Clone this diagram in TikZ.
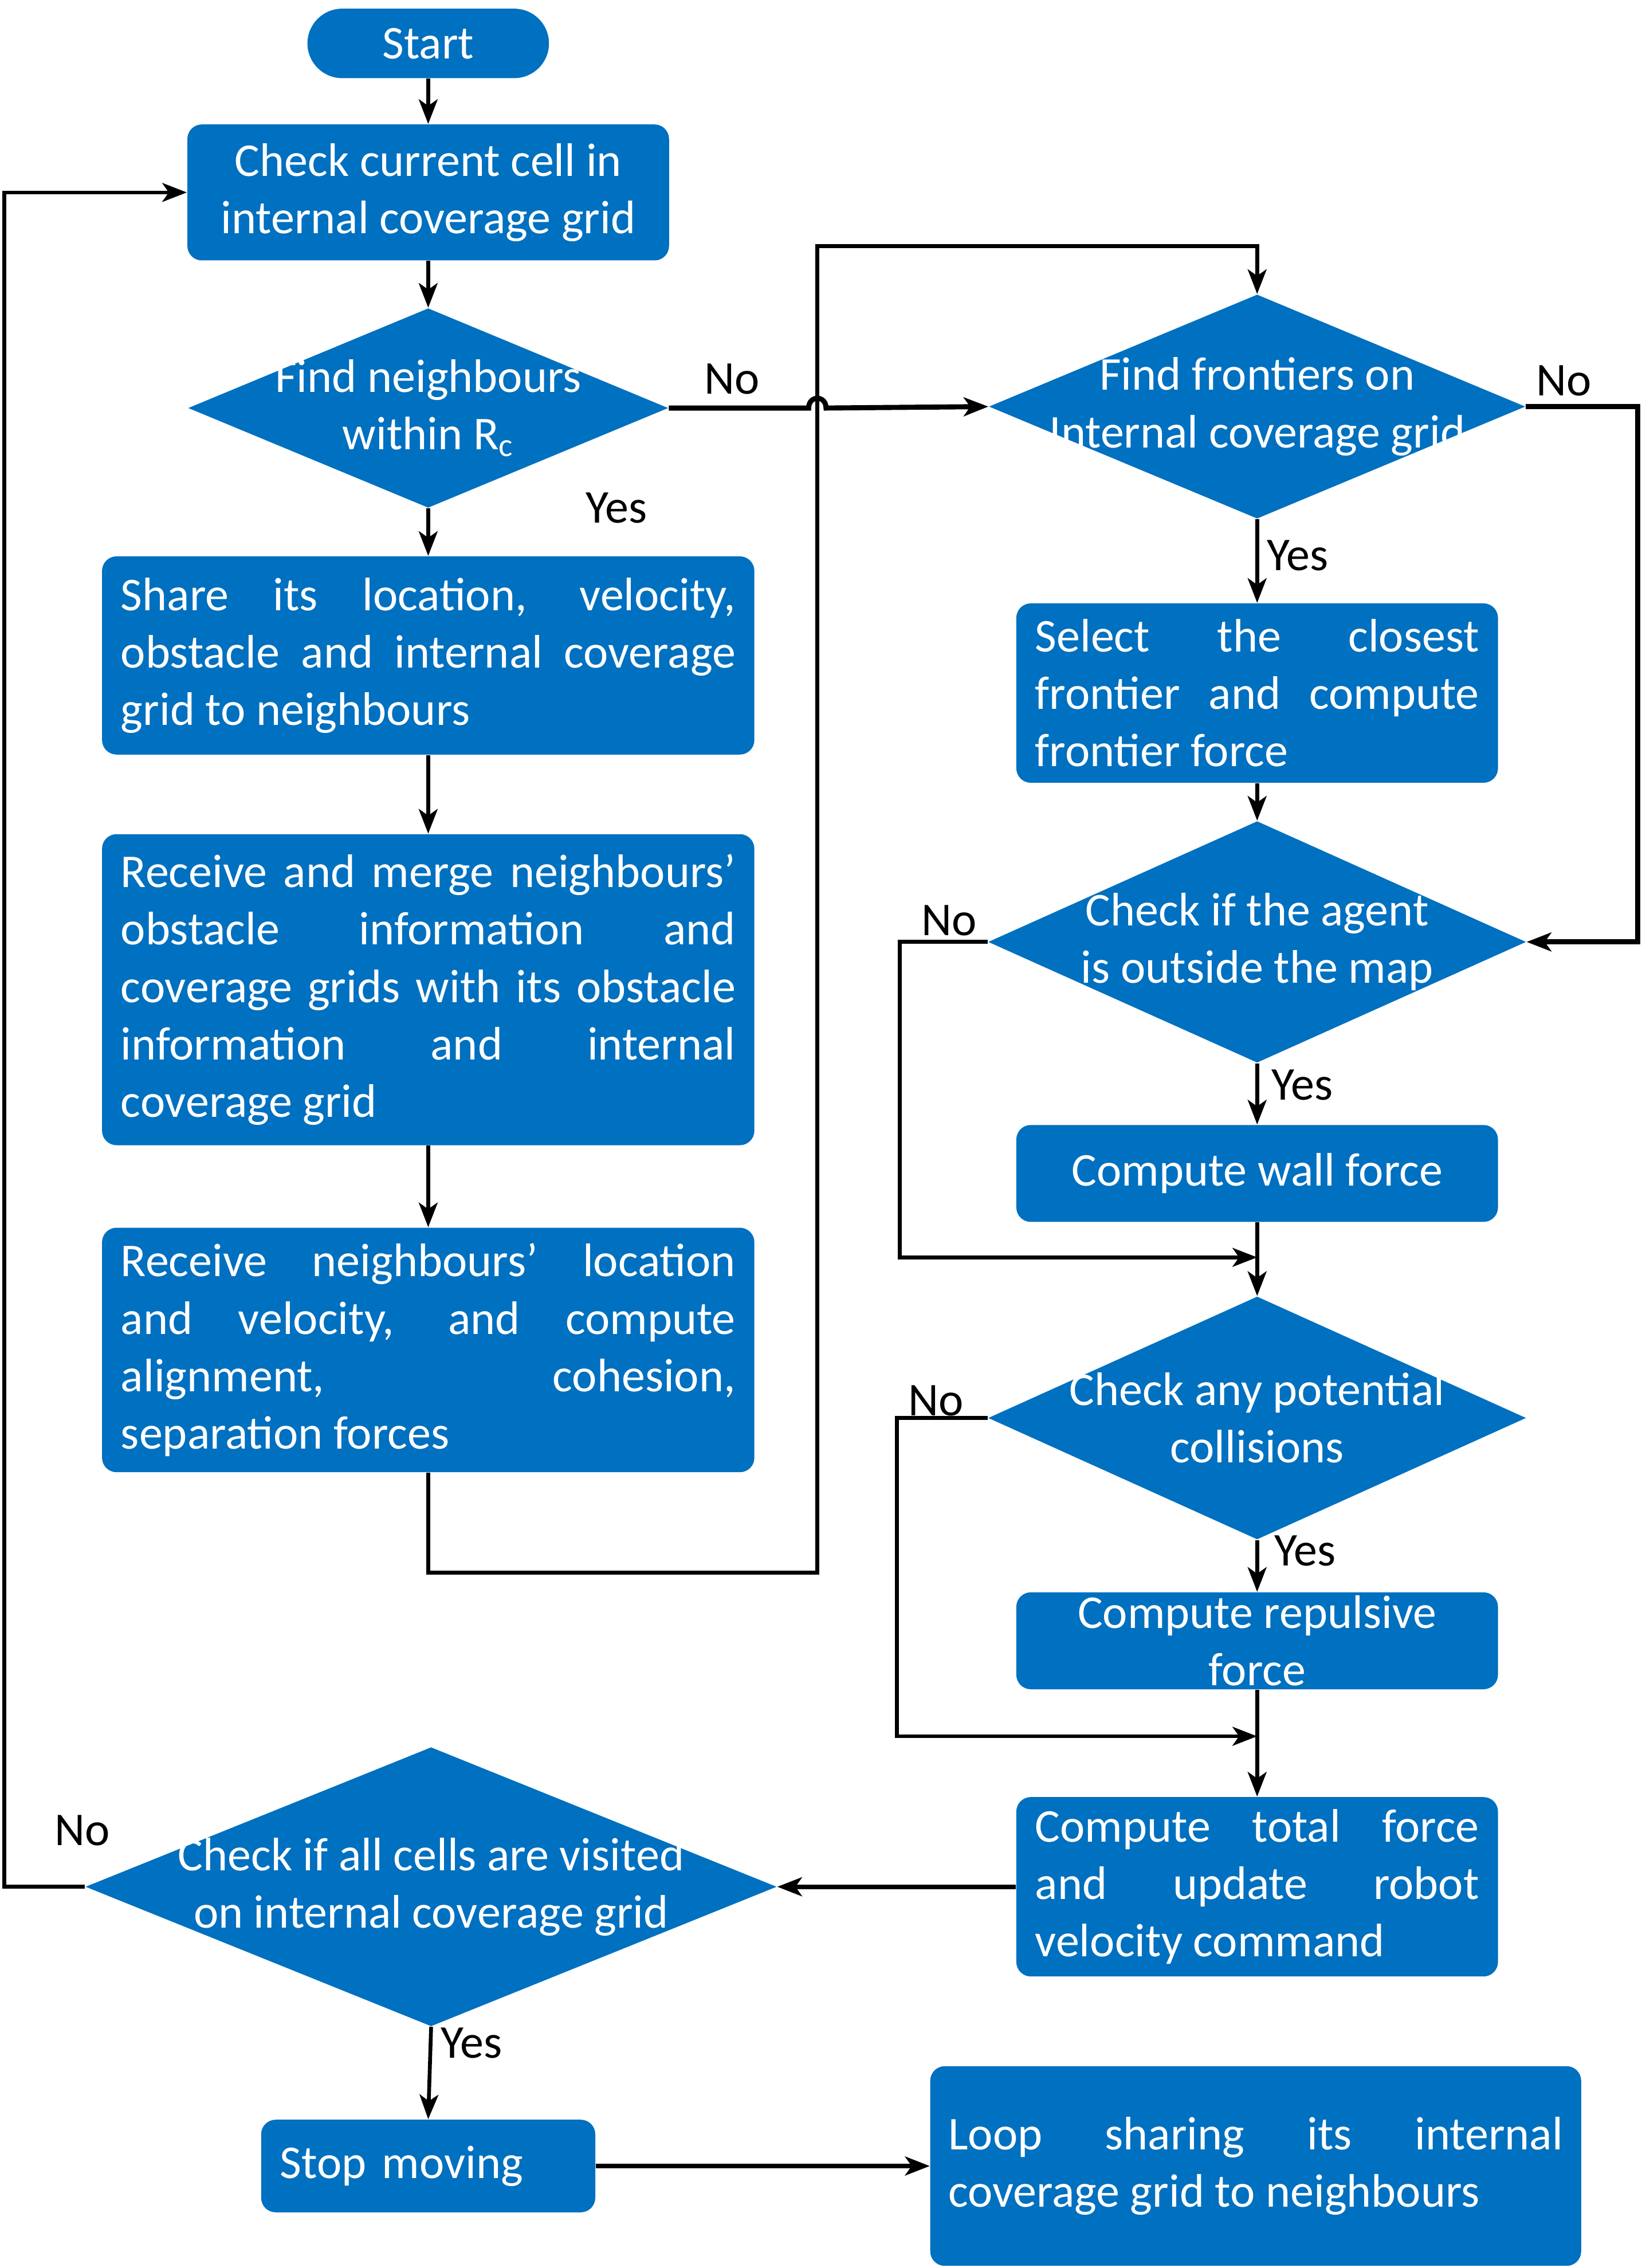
\documentclass[tikz,border=0pt]{standalone}
\usepackage{fontspec}
\setmainfont{Carlito}
\usetikzlibrary{shapes.geometric,arrows.meta}
\setlength{\parindent}{0pt}
\definecolor{flowblue}{HTML}{0070C0}
\newcommand{\flowfont}{\fontsize{18.5}{22.6}\selectfont}
\tikzset{
  base/.style={fill=flowblue,text=white,font=\flowfont,inner sep=0pt},
  startstop/.style={base,rounded corners=0.48cm,minimum width=3.34cm,minimum height=0.96cm},
  process/.style={base,rounded corners=0.2cm,minimum width=6.66cm,align=center},
  widebox/.style={base,rounded corners=0.2cm,minimum width=9.02cm,text width=8.5cm,align=justify},
  smallbox/.style={base,rounded corners=0.2cm,minimum width=6.66cm,text width=6.14cm,align=justify},
  decision/.style={diamond,fill=flowblue,inner sep=0pt},
  dtext/.style={text=white,font=\flowfont,align=center,inner sep=0pt},
  tag/.style={font=\flowfont,text=black,inner sep=0pt},
  link/.style={line width=1.5pt},
  flow/.style={link,-{Stealth[length=0.34cm,width=0.26cm,inset=0.09cm]}},
}
\begin{document}
\begin{tikzpicture}[x=0.02cm,y=-0.02cm]
  \useasboundingbox (0,0) rectangle (1135,1567.5);

  % left column
  \node (start)[startstop] at (296,30) {Start};
  \node (check)[process,minimum height=1.88cm] at (296,133) {Check current cell in\\internal coverage grid};
  \node (neigh)[decision,minimum width=6.64cm,minimum height=2.76cm,
    label={[dtext]center:Find neighbours\\within R\textsubscript{c}}] at (296,282) {};
  \node (share)[widebox,minimum height=2.74cm] at (296,453)
    {Share its location, velocity,\linebreak obstacle and internal coverage\linebreak grid to neighbours};
  \node (merge)[widebox,minimum height=4.30cm] at (296,684)
    {Receive and merge neighbours’\linebreak obstacle information and\linebreak coverage grids with its obstacle\linebreak information and internal\linebreak coverage grid};
  \node (swarm)[widebox,minimum height=3.38cm] at (296,933)
    {Receive neighbours’ location\linebreak and velocity, and compute\linebreak alignment, cohesion,\linebreak separation forces};
  \node (visited)[decision,minimum width=9.56cm,minimum height=3.86cm,
    label={[dtext]center:Check if all cells are visited\\on internal coverage grid}] at (298,1304) {};
  \node (stop)[base,rounded corners=0.2cm,minimum width=4.62cm,minimum height=1.28cm,
    text width=4.1cm,align=left] at (296,1497) {Stop moving};

  % right column
  \node (front)[decision,minimum width=7.42cm,minimum height=3.10cm,
    label={[dtext]center:Find frontiers on\\Internal coverage grid}] at (869,281) {};
  \node (select)[smallbox,minimum height=2.48cm] at (869,479)
    {Select the closest\linebreak frontier and compute\linebreak frontier force};
  \node (outside)[decision,minimum width=7.44cm,minimum height=3.34cm,
    label={[dtext]center:Check if the agent\\is outside the map}] at (869,651) {};
  \node (wall)[process,minimum height=1.34cm] at (869,811) {Compute wall force};
  \node (collide)[decision,minimum width=7.44cm,minimum height=3.36cm,
    label={[dtext]center:Check any potential\\collisions}] at (869,980) {};
  \node (repulse)[process,minimum height=1.34cm] at (869,1134) {Compute repulsive\\force};
  \node (total)[smallbox,minimum height=2.48cm] at (869,1304)
    {Compute total force\linebreak and update robot\linebreak velocity command};
  \node (loop)[base,rounded corners=0.2cm,minimum width=9.0cm,minimum height=2.76cm,
    text width=8.5cm,align=justify] at (868,1497)
    {Loop sharing its internal\linebreak coverage grid to neighbours};

  % yes / no tags
  \node (no1)[tag] at (506,262) {No};
  \node (yes1)[tag] at (426,351) {Yes};
  \node (no2)[tag] at (1081,263) {No};
  \node (yes2)[tag] at (897,384) {Yes};
  \node (no3)[tag] at (656,636) {No};
  \node (yes3)[tag] at (900,750) {Yes};
  \node (no4)[tag] at (647,968) {No};
  \node (yes4)[tag] at (902,1072) {Yes};
  \node (no5)[tag] at (57,1265) {No};
  \node (yes5)[tag] at (326,1412) {Yes};

  % straight arrows
  \foreach \from/\to in {start/check,check/neigh,neigh/share,share/merge,merge/swarm,
      front/select,select/outside,outside/wall,wall/collide,collide/repulse,repulse/total,visited/stop}
    \draw[flow] (\from.south) -- (\to.north);
  \draw[flow,line width=1.8pt] (total.west) -- (visited.east);
  \draw[flow,line width=2pt] (stop.east) -- (loop.west);

  % loops
  \draw[flow,line width=2pt] (neigh.east) -- (559,282) .. controls (559,273) and (571,273) .. (571,282) -- (front.west);
  \draw[flow] (swarm.south) -- (296,1087) -- (565,1087) -- (565,170) -- (869,170) -- (front.north);
  \draw[flow,line width=2pt] (front.east) -- (1132,281) |- (outside.east);
  \draw[flow] (outside.west) -- (622,651) |- (869,869);
  \draw[flow] (collide.west) -- (620,980) |- (869,1200);
  \draw[flow] (visited.west) -- (3,1304) |- (check.west);
\end{tikzpicture}
\end{document}
